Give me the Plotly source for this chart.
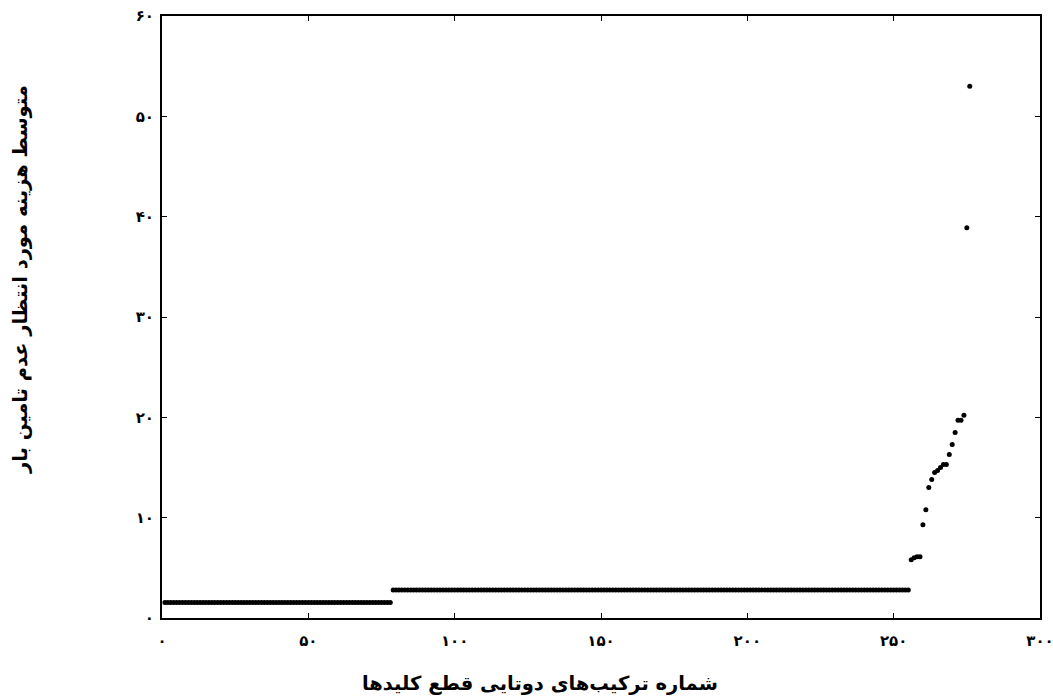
import plotly.graph_objects as go

# Data: 276 two-way combinations of key cuts (24 choose 2)
level1_value = 1.55
level1_count = 78
level2_value = 2.8
level2_count = 177
tail_values = [5.8, 6.0, 6.1, 6.1, 9.3, 10.8, 13.0, 13.8, 14.5, 14.7, 15.0,
               15.3, 15.3, 16.3, 17.3, 18.5, 19.7, 19.7, 20.2, 38.9, 53.0]

y_values = [level1_value] * level1_count + [level2_value] * level2_count + tail_values
x_values = list(range(1, len(y_values) + 1))

x_tickvals = [0, 50, 100, 150, 200, 250, 300]
x_ticktext = ["۰", "۵۰", "۱۰۰", "۱۵۰", "۲۰۰", "۲۵۰", "۳۰۰"]
y_tickvals = [0, 10, 20, 30, 40, 50, 60]
y_ticktext = ["۰", "۱۰", "۲۰", "۳۰", "۴۰", "۵۰", "۶۰"]

x_title = "شماره ترکیب‌های دوتایی قطع کلیدها"
y_title = "متوسط هزینه مورد انتظار عدم تامین بار"

FONT = "DejaVu Sans, Noto Sans, sans-serif"

fig = go.Figure()
fig.add_trace(go.Scatter(
    x=x_values, y=y_values, mode="markers",
    marker=dict(color="black", size=5, line=dict(width=0)),
    showlegend=False,
))

axis_common = dict(
    showline=True, linecolor="black", linewidth=2, mirror="ticks",
    ticks="inside", ticklen=5, tickcolor="black", tickwidth=1,
    showgrid=False, zeroline=False, ticklabeloverflow="allow",
    tickfont=dict(family=FONT, size=15, color="black", weight="bold"),
)

fig.update_xaxes(range=[0, 300], tickvals=x_tickvals, ticktext=x_ticktext,
                 ticklabelstandoff=8, automargin=False, **axis_common)
fig.update_yaxes(range=[0, 60], tickvals=y_tickvals, ticktext=y_ticktext,
                 ticklabelstandoff=3, automargin=False, **axis_common)

fig.add_annotation(text="<b>" + x_title + "</b>", xref="paper", yref="paper",
                   x=(540 - 162) / 878, y=-(683 - 618) / 602, xanchor="center", yanchor="middle",
                   showarrow=False, font=dict(family=FONT, size=19.5, color="black"))
fig.add_annotation(text="<b>" + y_title + "</b>", xref="paper", yref="paper",
                   x=-(162 - 20) / 878, y=(618 - 280) / 602, xanchor="center", yanchor="middle",
                   textangle=-90, showarrow=False,
                   font=dict(family=FONT, size=19.5, color="black"))

fig.update_layout(
    width=1053, height=696,
    margin=dict(l=162, r=13, t=16, b=78),
    paper_bgcolor="white", plot_bgcolor="white",
)

fig.write_html("out.html", config={"displayModeBar": False},
               post_script="document.body.style.margin='0px';document.body.style.overflow='hidden';")
